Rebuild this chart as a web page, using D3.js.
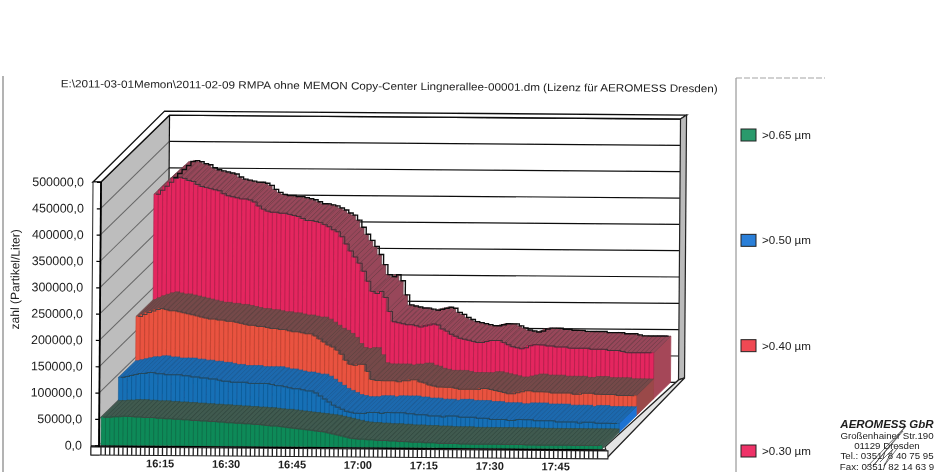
<!DOCTYPE html>
<html>
<head>
<meta charset="utf-8">
<script src="https://cdn.jsdelivr.net/npm/d3@7"></script>
<style>
  body { margin: 0; background: #fff; }
  text { font-family: "Liberation Sans", Arial, sans-serif; fill: #1c1c1c; }
  .axis-y text { font-size: 12.4px; }
  .axis-x text { font-size: 11px; font-weight: bold; }
</style>
</head>
<body>
<div id="chart"></div>
<script>
const chartTitle = "E:\\2011-03-01Memon\\2011-02-09 RMPA ohne MEMON Copy-Center Lingnerallee-00001.dm (Lizenz für AEROMESS Dresden)";
const yTitle = "zahl (Partikel/Liter)";
const yTicks = [0, 50000, 100000, 150000, 200000, 250000, 300000, 350000, 400000, 450000, 500000];
const xTickLabels = ["16:15", "16:30", "16:45", "17:00", "17:15", "17:30", "17:45"];
const firstMinute = new Date(2011, 1, 9, 16, 2);

// One value per minute, front to back
const seriesLabels = [">0.65 µm", ">0.50 µm", ">0.40 µm", ">0.30 µm"];

const green = [
  53400, 53400, 54300, 54300, 55300, 55300, 55300, 54300, 54300, 53400, 53400, 53400, 52400, 52400, 51500, 51500,
  50500, 50500, 49600, 49600, 48600, 48600, 47700, 47700, 46700, 46700, 45800, 45800, 44800, 44800, 43900, 43900,
  42900, 42900, 42000, 42000, 41000, 40000, 39100, 39100, 38100, 37200, 36200, 35300, 34300, 33400, 32400, 31500,
  30500, 29600, 28600, 26700, 24800, 22900, 21000, 19100, 17200, 16200, 15300, 15300, 14300, 14300, 13400, 13400,
  13400, 12400, 12400, 11400, 11400, 11400, 10500, 10500, 10500, 9500, 9500, 9500, 8600, 8600, 8600, 8600,
  8600, 7600, 7600, 7600, 7600, 7600, 7600, 7600, 7600, 7600, 7600, 7600, 7600, 7600, 7600, 7600,
  6700, 6700, 6700, 6700, 6700, 6700, 6700, 6700, 6700, 6700, 6700, 6700, 6700, 6700, 6700, 6700, 6700, 6700
];
const blue = [
  97300, 99200, 101100, 103000, 104900, 104900, 106800, 106800, 104900, 104900, 103000, 103000, 103000, 103000, 101100, 101100,
  99200, 99200, 97300, 97300, 95400, 95400, 93500, 91600, 91600, 89700, 89700, 89700, 89700, 87800, 87800, 87800,
  87800, 87800, 85900, 83900, 83900, 82000, 80100, 78200, 78200, 76300, 74400, 74400, 70600, 64900, 59100, 53400,
  47700, 43900, 40100, 36200, 34300, 32400, 32400, 32400, 34300, 34300, 34300, 32400, 34300, 34300, 34300, 34300,
  34300, 32400, 32400, 30500, 30500, 30500, 28600, 28600, 28600, 26700, 28600, 28600, 28600, 26700, 26700, 26700,
  26700, 24800, 24800, 24800, 22900, 22900, 22900, 22900, 21000, 21000, 22900, 22900, 22900, 22900, 21000, 21000,
  21000, 21000, 21000, 19100, 19100, 19100, 19100, 19100, 17100, 19000, 19000, 19000, 17100, 17100, 17100, 17100, 17100, 17100
];
const red = [
  181300, 185100, 188900, 191800, 194600, 196500, 194600, 192700, 192700, 190800, 188900, 187000, 185100, 183200, 181300, 179300,
  177400, 177400, 175500, 175500, 173600, 173600, 171700, 169800, 167900, 166000, 166000, 164100, 164100, 162200, 160300, 160300,
  158400, 158400, 156400, 154500, 154500, 152600, 150700, 150700, 146900, 141200, 135500, 129700, 125900, 120200, 112600, 101100,
  93500, 91600, 93500, 93500, 80100, 64900, 62900, 62900, 62900, 62900, 62900, 61000, 62900, 62900, 64900, 64900,
  61000, 59100, 55300, 53400, 51500, 51500, 51500, 51500, 49600, 47700, 47700, 47700, 47700, 47700, 49600, 49600,
  47700, 45800, 43900, 42000, 40000, 40000, 42000, 43900, 45800, 45800, 43900, 43900, 43900, 43900, 42000, 42000,
  42000, 42000, 42000, 40000, 40000, 41900, 41900, 41900, 40000, 40000, 40000, 40000, 40000, 38100, 38100, 38100, 38100, 38100
];
const pink = [
  381600, 389200, 396900, 404500, 412100, 414000, 412100, 408300, 406400, 400700, 396900, 394900, 393000, 391100, 389200, 383500,
  379700, 377800, 375900, 374000, 374000, 372100, 368200, 360600, 354900, 351100, 349200, 349200, 347200, 347200, 345300, 343400,
  341500, 337700, 333900, 333900, 332000, 330100, 326300, 322400, 316700, 312900, 303400, 290000, 276600, 265200, 253700, 238500,
  219400, 200300, 196500, 200300, 188900, 162200, 143100, 141200, 139300, 137400, 137400, 135500, 133500, 135500, 137400, 139300,
  137400, 129700, 125900, 120200, 116400, 112500, 110600, 108700, 106800, 104900, 104900, 106800, 108700, 108700, 108700, 104900,
  101100, 97300, 95400, 93500, 95400, 99200, 101100, 101100, 101100, 99200, 99200, 97300, 97300, 97300, 95400, 95400,
  95400, 95400, 95400, 93500, 93500, 93500, 93500, 91600, 91600, 91600, 89600, 87700, 87700, 87700, 87700, 87700, 87700, 87700
];

const width = 935;
const height = 472;
const depthX = 17;
const depthY = -16.85;
const barsTop = 447;
const barsBottom = 455;

const minutes = d3.timeMinute.range(firstMinute, d3.timeMinute.offset(firstMinute, green.length));
const timeLabel = d3.timeFormat("%H:%M");

const xScale = d3.scaleBand()
  .domain(minutes.map(timeLabel))
  .range([101, 602]);
const yScale = d3.scaleLinear()
  .domain([0, 500000])
  .range([445.3, 182]);

const seriesColors = [
  { front: "#0f8a58", sep: "#0c6c47", top: "#3f5a50", hatch: "#34493f", end: "#3f5a50", edge: "#3a4a42" },
  { front: "#1670b6", sep: "#0f5690", top: "#1e69ae", hatch: "#1b5c94", end: "#1f72d2", edge: "#24485f" },
  { front: "#e9523f", sep: "#bf4130", top: "#75494a", hatch: "#5f4341", end: "#9a4848", edge: "#4d4040" },
  { front: "#e4265e", sep: "#ad1f4b", top: "#98475a", hatch: "#6e3f49", end: "#a54759", edge: "#443038" }
];
const legendColors = ["#2c9a6c", "#2a7fd8", "#ef4a52", "#ee3068"];

const svg = d3.select("#chart")
  .append("svg")
    .attr("width", width)
    .attr("height", height)
    .attr("viewBox", `0 0 ${width} ${height}`)
    .style("display", "block");

// The sheet was scanned: a little soft and a little crooked
svg.append("defs")
  .append("filter")
    .attr("id", "scan")
    .attr("filterUnits", "userSpaceOnUse")
    .attr("x", 0).attr("y", 0)
    .attr("width", width).attr("height", height)
  .append("feGaussianBlur")
    .attr("stdDeviation", 0.65);

const page = svg.append("g").attr("filter", "url(#scan)");
const plot = page.append("g").attr("transform", "rotate(0.44 100 445)");

/*******************************/
/*    Page edge                */
/*******************************/
page.append("line")
  .attr("x1", 3).attr("y1", 76).attr("x2", 3).attr("y2", height)
  .attr("stroke", "#9a9a9a").attr("stroke-width", 1.5);

/*************************/
/*    Walls and floor    */
/*************************/
const wallDepthX = 4 * depthX;
const wallDepthY = 4 * depthY;
const backLeft = 99 + wallDepthX;
const backRight = 678;
const topY = yScale(500000);
const zeroY = yScale(0);

plot.append("polygon")
  .attr("points", [[99, topY], [backLeft, topY + wallDepthY], [backLeft, zeroY + wallDepthY], [99, zeroY]].join(" "))
  .attr("fill", "#bdbdbd");

yTicks.forEach(v => {
  const y = yScale(v);
  plot.append("line")
    .attr("x1", 99).attr("y1", y)
    .attr("x2", backLeft).attr("y2", y + wallDepthY)
    .attr("stroke", "#666").attr("stroke-width", 1);
  plot.append("line")
    .attr("x1", backLeft).attr("y1", y + wallDepthY)
    .attr("x2", backRight).attr("y2", y + wallDepthY)
    .attr("stroke", "#111").attr("stroke-width", 1.2);
});

// Back wall outline
plot.append("line")
  .attr("x1", backLeft).attr("y1", topY + wallDepthY)
  .attr("x2", backLeft).attr("y2", zeroY + wallDepthY)
  .attr("stroke", "#111").attr("stroke-width", 1.2);

// Rim round the top of the walls
plot.append("polygon")
  .attr("points", [[91, topY], [99, topY], [backLeft, topY + wallDepthY], [backRight, topY + wallDepthY],
    [684, topY + wallDepthY - 4], [backLeft - 5, topY + wallDepthY - 4]].join(" "))
  .attr("fill", "#fff").attr("stroke", "#111").attr("stroke-width", 1.4);

// Rim on the right of the back wall
plot.append("polygon")
  .attr("points", [[backRight, topY + wallDepthY], [684, topY + wallDepthY - 4], [684, 373.5], [backRight, 375.5]].join(" "))
  .attr("fill", "#bbb").attr("stroke", "#222").attr("stroke-width", 1.2);

// Rim along the floor
plot.append("polygon")
  .attr("points", [[605, 443], [backRight, 375.5], [684, 373.5], [608, 453]].join(" "))
  .attr("fill", "#e4e4e4").attr("stroke", "#222").attr("stroke-width", 1.3);

/******************************/
/*    Layers, back to front   */
/******************************/
const layers = [green, blue, red, pink];
const lastIndex = green.length - 1;

d3.range(layers.length - 1, -1, -1).forEach(k => {
  const values = layers[k];
  const col = seriesColors[k];
  const dx = k * depthX;
  const dy = k * depthY;
  const bw = xScale.bandwidth();
  const g = plot.append("g").attr("class", `layer layer-${k}`);

  const bars = g.selectAll("g")
    .data(values.map((v, i) => ({ v, i, t: minutes[i] })))
    .join("g");

  // Side face shows on the right of each bar, so the bars go left to right
  bars.append("polygon")
    .attr("points", d => {
      const x = xScale(timeLabel(d.t)) + dx + bw;
      const yT = yScale(d.v) + dy;
      const yB = yScale(0) + dy;
      return [[x, yT], [x + depthX, yT + depthY], [x + depthX, yB + depthY], [x, yB]].join(" ");
    })
    .attr("fill", d => d.i === lastIndex ? col.end : col.top)
    .attr("stroke", d => d.i === lastIndex ? col.end : col.hatch)
    .attr("stroke-width", 0.8);

  bars.append("polygon")
    .attr("points", d => {
      const x = xScale(timeLabel(d.t)) + dx;
      const yT = yScale(d.v) + dy;
      return [[x, yT], [x + bw, yT], [x + bw + depthX, yT + depthY], [x + depthX, yT + depthY]].join(" ");
    })
    .attr("fill", col.top)
    .attr("stroke", col.hatch)
    .attr("stroke-width", 0.6);

  bars.append("rect")
    .attr("x", d => xScale(timeLabel(d.t)) + dx)
    .attr("y", d => yScale(d.v) + dy)
    .attr("width", bw)
    .attr("height", d => yScale(0) - yScale(d.v))
    .attr("fill", col.front)
    .attr("stroke", col.sep)
    .attr("stroke-width", 0.55);

  // Edges along the front and the back of the top surface
  const edge = d3.line()
    .x(d => xScale(timeLabel(d.t)) + dx + bw / 2)
    .y(d => yScale(d.v) + dy)
    .curve(d3.curveStepAfter);

  g.append("path")
    .attr("d", edge(bars.data()))
    .attr("fill", "none")
    .attr("stroke", col.edge)
    .attr("stroke-width", 1);

  if (k === layers.length - 1) {
    g.append("path")
      .attr("d", edge(bars.data()))
      .attr("transform", `translate(${depthX}, ${depthY})`)
      .attr("fill", "none")
      .attr("stroke", "#111")
      .attr("stroke-width", 1.4);
  }
});

/***************************/
/*     Append the axes     */
/***************************/
// White column carrying the value axis
plot.append("rect")
  .attr("x", 91).attr("y", topY)
  .attr("width", 8).attr("height", barsBottom - topY)
  .attr("fill", "#fff").attr("stroke", "#222").attr("stroke-width", 1);
plot.append("line")
  .attr("x1", 99).attr("y1", topY).attr("x2", 99).attr("y2", barsTop)
  .attr("stroke", "#000").attr("stroke-width", 1.8);

const leftAxisGenerator = d3.axisLeft(yScale)
  .tickValues(yTicks)
  .tickSize(4)
  .tickPadding(13)
  .tickFormat(d => d3.format(".1f")(d).replace(".", ","));
plot.append("g")
    .attr("class", "axis-y")
    .attr("transform", "translate(99, 0)")
    .call(leftAxisGenerator)
    .call(g => g.select(".domain").remove())
    .call(g => g.selectAll("line").attr("stroke", "#000").attr("stroke-width", 1.2));

// Minute stripes under the floor
plot.append("rect")
  .attr("x", 91).attr("y", barsTop)
  .attr("width", 517).attr("height", barsBottom - barsTop)
  .attr("fill", "#fff").attr("stroke", "#222").attr("stroke-width", 1.1);
plot.append("line")
  .attr("x1", 91).attr("y1", barsTop - 1).attr("x2", 605).attr("y2", barsTop - 1)
  .attr("stroke", "#000").attr("stroke-width", 1.5);
plot.selectAll(".minute")
  .data(minutes)
  .join("line")
    .attr("class", "minute")
    .attr("x1", d => xScale(timeLabel(d)))
    .attr("x2", d => xScale(timeLabel(d)))
    .attr("y1", barsTop)
    .attr("y2", barsBottom)
    .attr("stroke", "#222")
    .attr("stroke-width", 1.3);

const bottomAxisGenerator = d3.axisBottom(xScale)
  .tickValues(xTickLabels)
  .tickSize(0)
  .tickPadding(4);
plot.append("g")
    .attr("class", "axis-x")
    .attr("transform", `translate(0, ${barsBottom})`)
    .call(bottomAxisGenerator)
    .call(g => g.select(".domain").remove());

// Titles
plot.append("text")
  .text(chartTitle)
  .attr("x", 58)
  .attr("y", 87.5)
  .attr("textLength", 657)
  .attr("lengthAdjust", "spacingAndGlyphs")
  .style("font-size", "10.6px");
plot.append("text")
  .text(yTitle)
  .attr("transform", "translate(18, 280) rotate(-90)")
  .attr("text-anchor", "middle")
  .style("font-size", "12px");

/***********************/
/*       Legend        */
/***********************/
const legend = page.append("g");
legend.append("line")
  .attr("x1", 736).attr("y1", 78).attr("x2", 736).attr("y2", height)
  .attr("stroke", "#777").attr("stroke-width", 0.9);
legend.append("line")
  .attr("x1", 736).attr("y1", 78).attr("x2", 825).attr("y2", 78)
  .attr("stroke", "#999").attr("stroke-width", 0.9)
  .attr("stroke-dasharray", "6 2");

const legendY = d3.scalePoint()
  .domain(seriesLabels)
  .range([135, 451]);

const legendRows = legend.selectAll(".row")
  .data(seriesLabels)
  .join("g")
    .attr("class", "row")
    .attr("transform", d => `translate(741, ${legendY(d)})`);
legendRows.append("rect")
  .attr("x", 0).attr("y", -6)
  .attr("width", 15).attr("height", 12)
  .attr("fill", (d, i) => legendColors[i])
  .attr("stroke", "#222").attr("stroke-width", 1);
legendRows.append("text")
  .text(d => d)
  .attr("x", 21).attr("y", 4)
  .style("font-size", "11.6px");

/***********************/
/*      Letterhead     */
/***********************/
const addressLines = ["Großenhainer Str.190", "01129 Dresden", "Tel.: 0351/ 8 40 75 95", "Fax: 0351/ 82 14 63 9"];
const letterhead = page.append("g");
letterhead.append("text")
  .text("AEROMESS GbR")
  .attr("x", 887).attr("y", 428)
  .attr("text-anchor", "middle")
  .style("font-size", "11.5px")
  .style("font-weight", "bold")
  .style("font-style", "italic");
letterhead.selectAll(".address")
  .data(addressLines)
  .join("text")
    .attr("class", "address")
    .text(d => d)
    .attr("x", 887)
    .attr("y", (d, i) => 438.5 + i * 10.4)
    .attr("text-anchor", "middle")
    .style("font-size", "9.7px");

// Signature scribbled over the address
letterhead.append("path")
  .attr("d", "M866 468 L906 426 L873 466 L903 431 M880 462 L893 449 L884 466 L899 446")
  .attr("fill", "none")
  .attr("stroke", "#333")
  .attr("stroke-width", 0.7);
</script>
</body>
</html>
